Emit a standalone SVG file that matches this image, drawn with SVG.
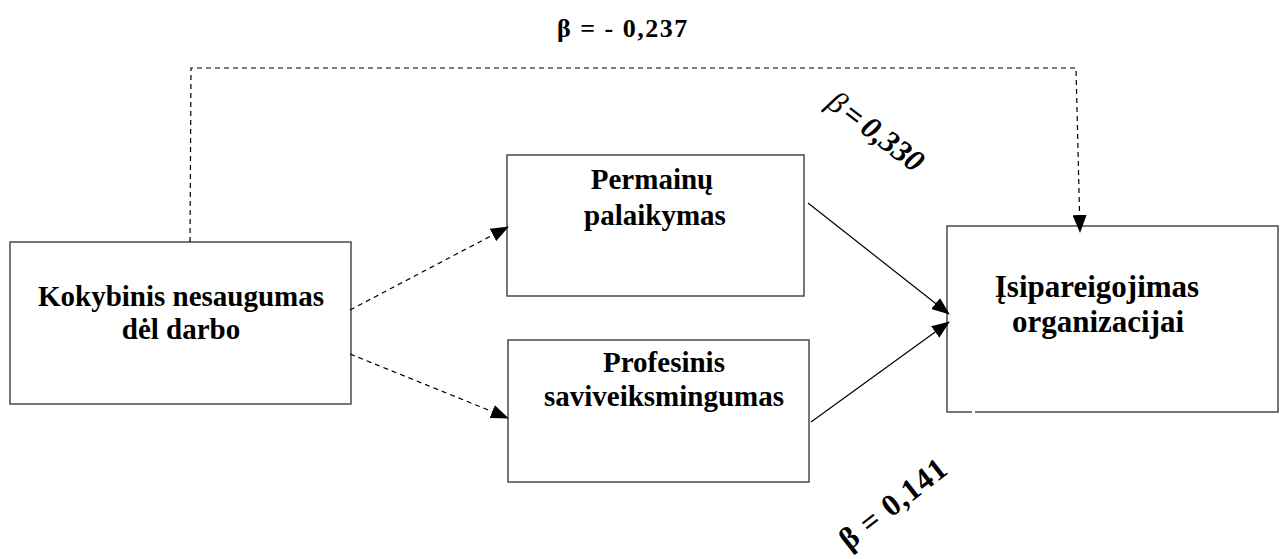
<svg xmlns="http://www.w3.org/2000/svg" width="1280" height="559" viewBox="0 0 1280 559">
  <style>
    .box { fill: #ffffff; stroke: #4a4a4a; stroke-width: 1.5; }
    .lbl { font-family: "Liberation Serif", "Times New Roman", serif; font-weight: bold; font-size: 29px; fill: #000; text-anchor: middle; }
    .big { font-size: 31px; }
    .dash { fill: none; stroke: #000; stroke-width: 1.2; stroke-dasharray: 5 4; }
    .solid { fill: none; stroke: #000; stroke-width: 1.2; }
    .beta { font-family: "Liberation Serif", "Times New Roman", serif; fill: #000; }
  </style>
  <defs>
    <marker id="tri" viewBox="0 0 18 14" refX="17" refY="7" markerWidth="18" markerHeight="14" markerUnits="userSpaceOnUse" orient="auto">
      <path d="M0,0 L18,7 L0,14 Z" fill="#000"/>
    </marker>
  </defs>

  <rect width="1280" height="559" fill="#ffffff"/>

  <g id="node-kokybinis">
    <rect class="box" x="10" y="242" width="341" height="162"/>
    <text class="lbl" x="181" y="306">Kokybinis nesaugumas</text>
    <text class="lbl" x="181" y="339">dėl darbo</text>
  </g>

  <g id="node-permainu">
    <rect class="box" x="507" y="155" width="297" height="141"/>
    <text class="lbl" x="652" y="189">Permainų</text>
    <text class="lbl" x="655" y="225">palaikymas</text>
  </g>

  <g id="node-profesinis">
    <rect class="box" x="508" y="340" width="301" height="142"/>
    <text class="lbl" x="664" y="372">Profesinis</text>
    <text class="lbl" x="664" y="406">saviveiksmingumas</text>
  </g>

  <g id="node-isipareigojimas">
    <path class="box" d="M972,412 L947,412 L947,226 L1278,226 L1278,412 L975,412"/>
    <text class="lbl big" x="1097" y="297">Įsipareigojimas</text>
    <text class="lbl big" x="1098" y="332">organizacijai</text>
  </g>

  <g id="connectors">
    <path class="dash" d="M190,242 L191,68 L1076,68 L1080,232" marker-end="url(#tri)"/>
    <path class="dash" d="M350,310 L508,227" marker-end="url(#tri)"/>
    <path class="dash" d="M350,354 L508,418" marker-end="url(#tri)"/>
    <path class="solid" d="M808,203 L949,314" marker-end="url(#tri)"/>
    <path class="solid" d="M811,422 L949,322" marker-end="url(#tri)"/>
  </g>

  <g id="labels">
    <text class="beta" x="557" y="37" font-size="26" font-weight="bold" fill="#222" letter-spacing="1.5">β = - 0,237</text>
    <text class="beta" transform="translate(825,106) rotate(37)" font-size="31" font-style="italic"><tspan>β</tspan><tspan font-weight="bold" dx="4">=</tspan><tspan font-weight="bold" dx="5">0,330</tspan></text>
    <text class="beta" transform="translate(849,551) rotate(-38)" font-size="31" font-weight="bold" letter-spacing="1">β = 0,141</text>
  </g>
</svg>
